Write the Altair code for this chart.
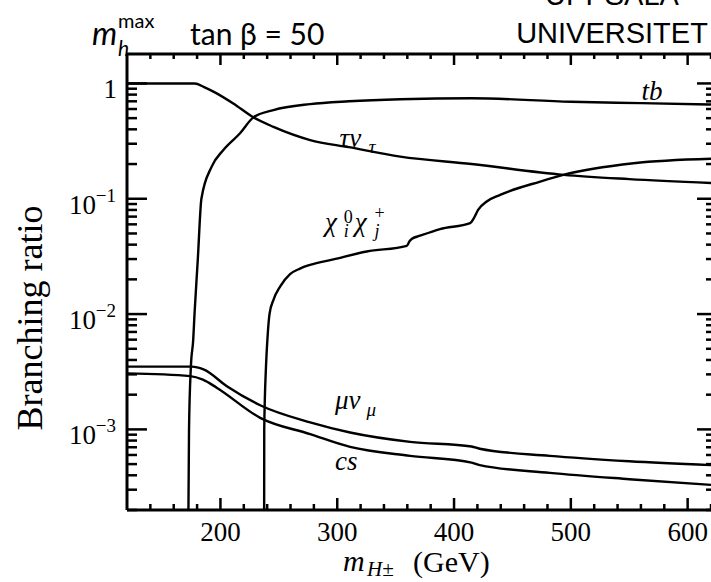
import altair as alt
import pandas as pd

# Charged Higgs decay branching ratios (m_h^max scenario, tan(beta) = 50)
# masses in GeV, branching ratios as fractions

tb_mass = [172.3, 172.6, 173.1, 174.7, 176.7, 177.8, 180.6, 183.7, 192.5, 202.5,
           216.8, 228.2, 245.4, 276.8, 310, 354, 415, 500, 560, 620]
tb_br = [1e-5, 2e-4, 1e-3, 3.5e-3, 6e-3, 1e-2, 0.0296, 0.1, 0.19, 0.265,
         0.37, 0.508, 0.588, 0.662, 0.70, 0.73, 0.745, 0.693, 0.675, 0.657]

tau_mass = [120, 150, 178, 186, 194, 211, 228.2, 245.4, 276.8, 310, 354, 415,
            494, 550, 620]
tau_br = [1.0, 1.0, 1.0, 0.93, 0.85, 0.67, 0.508, 0.42, 0.323, 0.28, 0.232, 0.2,
          0.161, 0.148, 0.137]

chi_mass = [237.3, 237.5, 239, 240.2, 242, 245.4, 251.2, 259.6, 268.1, 276.7,
            296.7, 325.3, 359.5, 362, 364, 371, 388, 413.8, 417, 420.6, 428,
            439.5, 473.8, 493.5, 553.7, 620]
chi_br = [1e-5, 1e-3, 3.5e-3, 6e-3, 0.01, 0.0133, 0.0174, 0.0222, 0.0248, 0.0267,
          0.0298, 0.0349, 0.0391, 0.043, 0.045, 0.0478, 0.0546, 0.0615, 0.068,
          0.08, 0.0946, 0.108, 0.141, 0.161, 0.203, 0.222]

mu_mass = [120, 175.5, 185.5, 205.5, 234, 276.8, 311, 362.4, 415, 422, 482, 550, 620]
mu_br = [3.5e-3, 3.5e-3, 3.31e-3, 2.37e-3, 1.62e-3, 1.15e-3, 9.4e-4, 7.8e-4,
         7.1e-4, 6.8e-4, 5.9e-4, 5.3e-4, 4.9e-4]

cs_mass = [120, 174, 185, 196.8, 234, 276.8, 311, 362.4, 415, 422, 482, 550, 620]
cs_br = [3.06e-3, 2.9e-3, 2.7e-3, 2.3e-3, 1.26e-3, 9.1e-4, 7.05e-4, 5.9e-4,
         5.15e-4, 4.9e-4, 4.2e-4, 3.7e-4, 3.3e-4]

x_major = [200, 300, 400, 500, 600]
x_minor = [m for m in range(140, 621, 20) if m % 100 != 0]
y_decades = [1e-3, 1e-2, 1e-1]
y_exponents = ["\u22123", "\u22122", "\u22121"]
y_minor = [k * 10.0 ** e for e in (-4, -3, -2, -1) for k in range(2, 10)]

series = [("tb", tb_mass, tb_br), ("tau", tau_mass, tau_br), ("chi", chi_mass, chi_br),
          ("mu", mu_mass, mu_br), ("cs", cs_mass, cs_br)]
df = pd.DataFrame([{"channel": n, "mass": m, "br": b}
                   for n, ms, bs in series for m, b in zip(ms, bs)])

W, H = 584, 456
XS = alt.Scale(domain=[120, 620], nice=False, zero=False)
YS = alt.Scale(type="log", domain=[2e-4, 1.8], nice=False)
SERIF = "Liberation Serif"
SANS = "Lato"


def x_rules(values, y0, y1, width=2.5):
    return alt.Chart(pd.DataFrame({"tick": values})).mark_rule(
        color="black", strokeWidth=width).encode(
        x=alt.X("tick:Q", scale=XS, axis=None), y=alt.value(y0), y2=alt.value(y1))


def y_rules(values, x0, x1, width=2.5):
    return alt.Chart(pd.DataFrame({"tick": values})).mark_rule(
        color="black", strokeWidth=width).encode(
        y=alt.Y("tick:Q", scale=YS, axis=None), x=alt.value(x0), x2=alt.value(x1))


def x_text(values, texts, y, size):
    return alt.Chart(pd.DataFrame({"tick": values, "txt": texts})).mark_text(
        font=SERIF, fontSize=size, align="center", baseline="top", color="black").encode(
        x=alt.X("tick:Q", scale=XS, axis=None), y=alt.value(y), text="txt:N")


def y_text(values, texts, x, size, dy):
    return alt.Chart(pd.DataFrame({"tick": values, "txt": texts})).mark_text(
        font=SERIF, fontSize=size, align="right", baseline="middle", dy=dy,
        color="black").encode(
        y=alt.Y("tick:Q", scale=YS, axis=None), x=alt.value(x), text="txt:N")


def frame(**enc):
    return alt.Chart(pd.DataFrame({"side": [1]})).mark_rule(
        color="black", strokeWidth=3).encode(**enc)


curves = alt.Chart(df).mark_line(color="black", strokeWidth=2.4, clip=True,
                                 interpolate="monotone").encode(
    x=alt.X("mass:Q", scale=XS, axis=None),
    y=alt.Y("br:Q", scale=YS, axis=None),
    detail="channel:N",
)

layers = [
    curves,
    # frame: left, top, bottom (right edge falls just outside the picture)
    frame(x=alt.value(0), y=alt.value(0), y2=alt.value(H)),
    frame(x=alt.value(0), x2=alt.value(W), y=alt.value(0)),
    frame(x=alt.value(0), x2=alt.value(W), y=alt.value(H)),
    # inward ticks on all sides
    x_rules(x_major, H - 12, H),
    x_rules(x_minor, H - 6, H),
    x_rules(x_major, 0, 11),
    x_rules(x_minor, 0, 5),
    y_rules(y_decades + [1.0], 0, 20),
    y_rules(y_minor, 0, 10),
    y_rules(y_decades + [1.0], W - 14, W),
    y_rules(y_minor, W - 5, W),
    # tick labels
    x_text(x_major, [str(v) for v in x_major], H + 10, 27),
    y_text(y_decades, ["10"] * 3, -31, 27, 7),
    y_text(y_decades, y_exponents, -11, 19, -3),
    y_text([1.0], ["1"], -10, 27, 7),
]


def note(text, m, br, size=27, style="italic"):
    return alt.Chart(pd.DataFrame({"m": [m], "br": [br], "t": [text]})).mark_text(
        font=SERIF, fontSize=size, fontStyle=style, align="left",
        baseline="alphabetic", color="black").encode(
        x=alt.X("m:Q", scale=XS, axis=None),
        y=alt.Y("br:Q", scale=YS, axis=None),
        text="t:N",
    )


# curve annotations
layers += [
    note("tb", 560.5, 0.718),
    note("\u03c4\u03bd", 302, 0.281),
    note("\u03c4", 327, 0.25, size=19),
    note("\u03c7", 289.5, 0.053),
    note("i", 305.5, 0.047, size=18),
    note("0", 305.5, 0.062, size=18, style="normal"),
    note("\u03c7", 315, 0.053),
    note("j", 332, 0.047, size=18),
    note("+", 332, 0.067, size=18, style="normal"),
    note("\u03bc\u03bd", 298, 1.5e-3),
    note("\u03bc", 325, 1.3e-3, size=19),
    note("cs", 298, 4.45e-4),
]


def label(text, x, y, size, font, style="normal", align="left", angle=0):
    props = dict(font=font, fontSize=size, fontStyle=style, align=align,
                 baseline="alphabetic", color="black")
    if angle:
        props["angle"] = angle
    return alt.Chart(pd.DataFrame({"t": [text]})).mark_text(**props).encode(
        x=alt.value(x), y=alt.value(y), text="t:N")


# header and axis titles (pixel offsets from the plot origin)
layers += [
    label("m", -35, -9, 32, SANS, "italic"),
    label("h", -9, 2, 21, SANS, "italic"),
    label("max", -9, -26, 20, SANS),
    label("tan \u03b2 = 50", 63, -9, 30, SANS),
    label("UPPSALA", 485, -49, 29, "Liberation Sans", align="center"),
    label("UNIVERSITET", 485, -11, 29, "Liberation Sans", align="center"),
    label("m", 216, 517, 30, SERIF, "italic"),
    label("H\u00b1", 240, 522, 21, SERIF, "italic"),
    label("(GeV)", 286, 518, 30, SERIF),
    label("Branching ratio", -85, 264, 36, SERIF, align="center", angle=270),
]

chart = alt.layer(*layers).resolve_scale(x="shared", y="shared").properties(
    width=W, height=H,
    padding={"left": 127, "top": 54, "right": 0, "bottom": 72},
    autosize=alt.AutoSizeParams(type="none"),
).configure_view(stroke=None)

chart.save("out.html", embed_options={"renderer": "svg", "actions": False})
